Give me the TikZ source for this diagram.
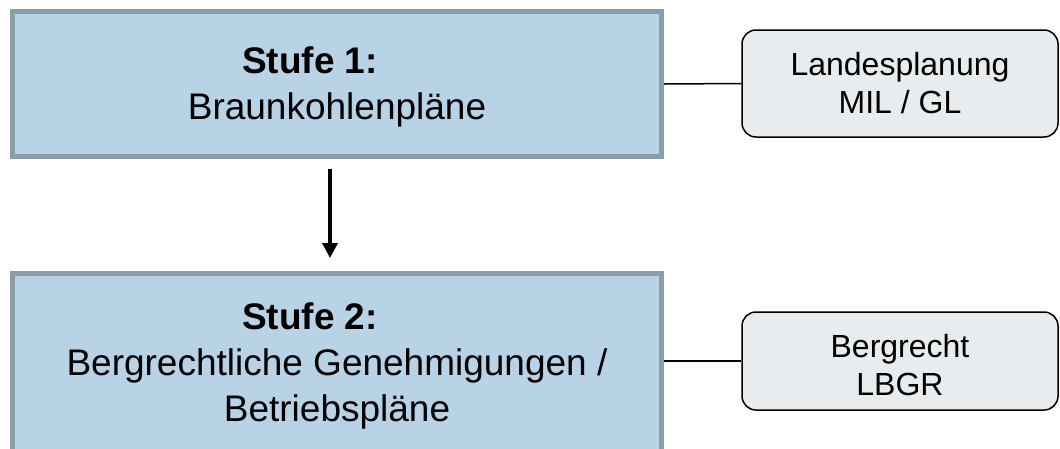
\documentclass[tikz,border=0pt]{standalone}
\usepackage{fontspec}
\setmainfont{Liberation Sans}
\usetikzlibrary{arrows.meta}
\definecolor{stufeblau}{HTML}{B8D3E6}
\definecolor{stufegrau}{HTML}{8A9EAA}
\definecolor{amtgrau}{HTML}{E8ECEE}
\tikzset{
  stufe/.style={draw=stufegrau, fill=stufeblau, line width=5pt, align=center,
    minimum width=649pt, font=\fontsize{37}{46}\selectfont},
  amt/.style={draw=black, fill=amtgrau, line width=1.5pt, rounded corners=14pt,
    align=center, minimum width=316pt, font=\fontsize{32}{38}\selectfont},
}
\newcommand{\stufentitel}[1]{\rule{0pt}{32pt}\textbf{Stufe #1:}\hspace*{54pt}}
\begin{document}
\begin{tikzpicture}[x=1pt,y=-1pt]
	\useasboundingbox (0,0) rectangle (1060,448);
	\node[stufe, minimum height=145pt] (stufe1) at (337,84) {\stufentitel{1}\\Braunkohlenpläne};
	\node[stufe, minimum height=179pt] (stufe2) at (337,363) {\stufentitel{2}\\Bergrechtliche Genehmigungen /\\Betriebspläne};
	\node[amt, minimum height=107pt] (landes) at (900,83.5) {Landesplanung\\MIL / GL};
	\node[amt, minimum height=98pt] (berg) at (900,361) {\rule{0pt}{32pt}Bergrecht\\LBGR};
	\draw[line width=1.5pt] (stufe1.east) -- (landes.west);
	\draw[line width=1.5pt] (stufe2.east |- berg.west) -- (berg.west);
	\draw[-{Triangle[width=15pt,length=15pt]}, line width=3.5pt] ([xshift=-7pt,yshift=-10pt]stufe1.south) -- ([xshift=-7pt,yshift=13pt]stufe2.north);
\end{tikzpicture}
\end{document}
